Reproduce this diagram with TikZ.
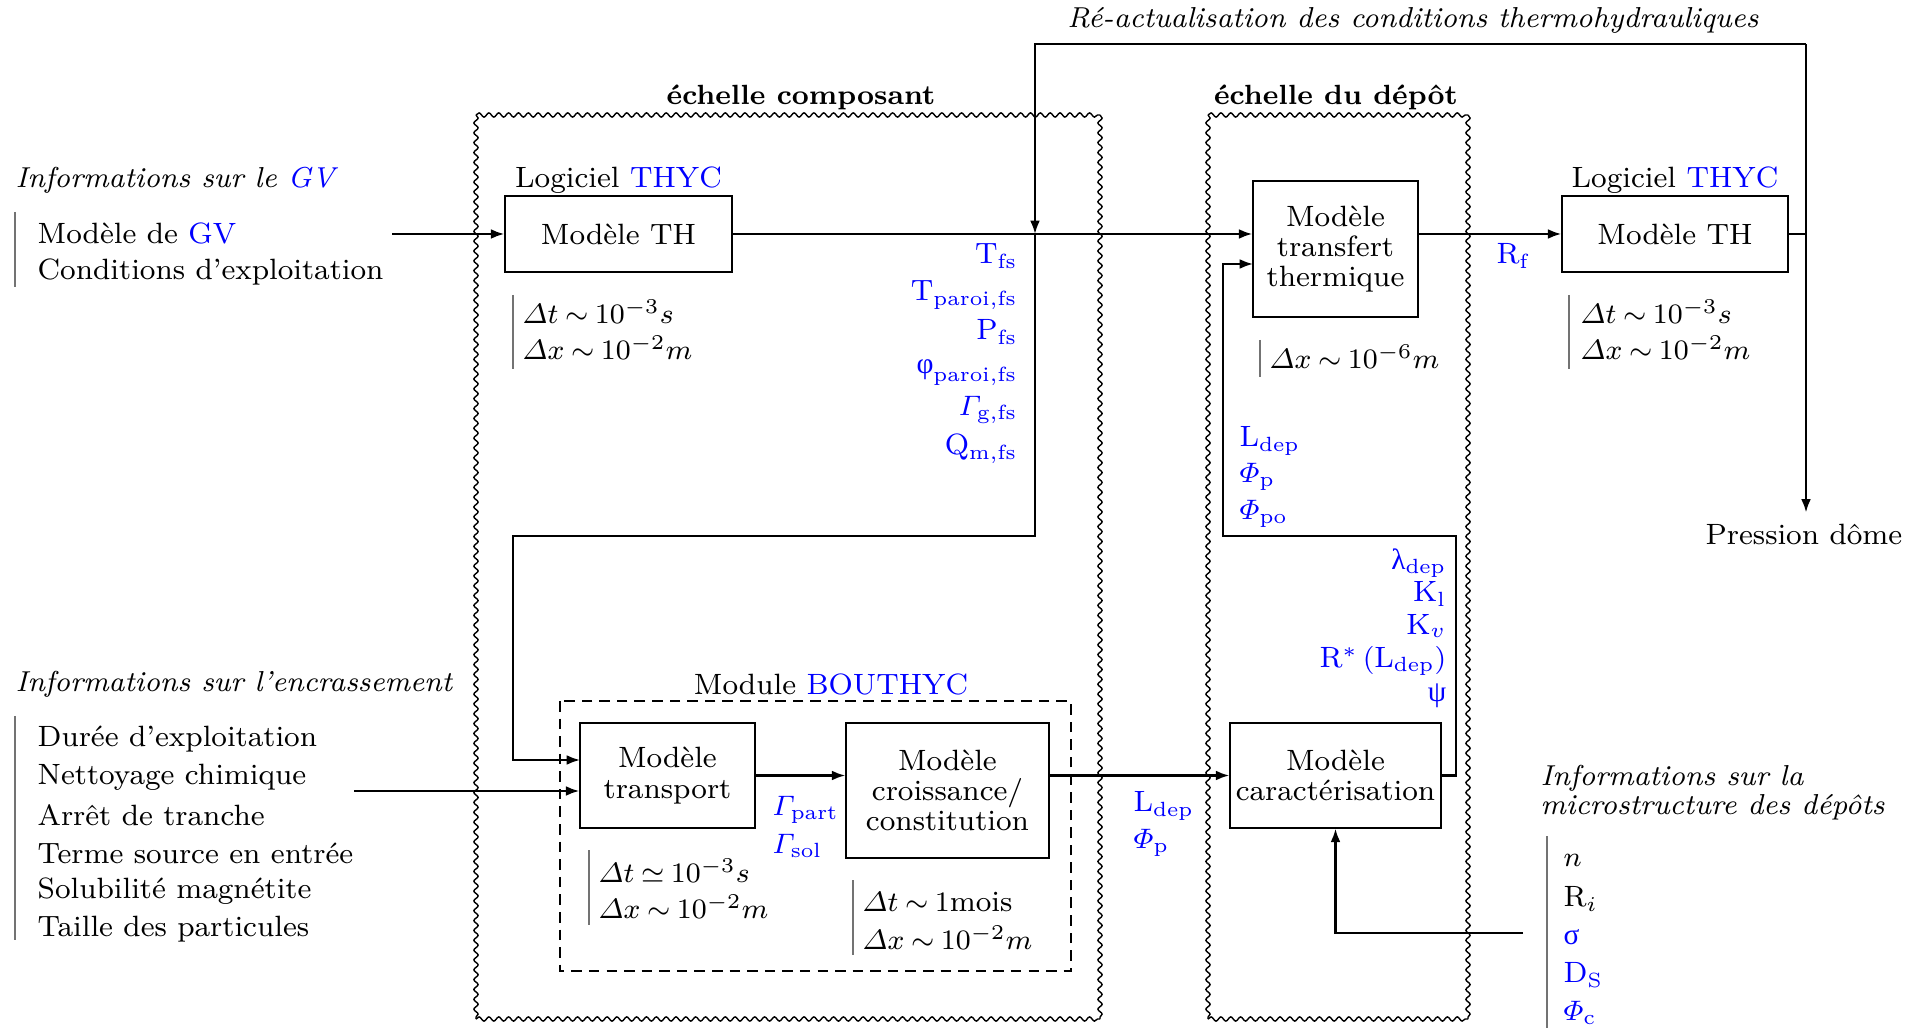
\documentclass[tikz,border=0pt]{standalone}
\usepackage{fontspec}
\newfontfamily\grk{Liberation Serif}
\usetikzlibrary{arrows.meta,decorations.pathmorphing}
\DeclareMathSymbol{\iDelta}{\mathord}{letters}{"01}
\DeclareMathSymbol{\iGamma}{\mathord}{letters}{"00}
\DeclareMathSymbol{\iPhi}{\mathord}{letters}{"08}
\thickmuskip=4mu plus 2mu
\newcommand\upg[1]{\mbox{\grk #1}}
\newcommand\fz{\fontsize{8.35}{8.6}\selectfont}
\newcommand\fzi{\fontsize{8.2}{8.6}\selectfont\itshape}
\newcommand\fzb{\fontsize{7.9}{8.6}\selectfont\bfseries}
\newcommand\bl[1]{\textcolor{blue}{#1}}
\begin{document}
\begin{tikzpicture}[x=0.01cm,y=-0.01cm,
  every node/.style={font=\fz, inner sep=0pt},
  box/.style={draw, line width=0.4pt, align=center},
  arr/.style={line width=0.6pt, -{Latex[length=3.8pt,width=2.8pt]}},
  ln/.style={line width=0.6pt},
  wavy/.style={decorate, decoration={snake, amplitude=0.6pt, segment length=2.8pt}, line width=0.4pt},
  bar/.style={line width=0.4pt, black!55},
  blab/.style={text=blue},
  ital/.style={font=\fzi},
  dashbox/.style={dash pattern=on 3pt off 2pt, line width=0.5pt}]
\useasboundingbox (0,0) rectangle (1924,1028);

% frames
\coordinate (A1) at (476,115); \coordinate (A2) at (1100,115);
\coordinate (A3) at (1100,1019); \coordinate (A4) at (476,1019);
\draw[wavy] (A1) -- (A2); \draw[wavy] (A2) -- (A3);
\draw[wavy] (A4) -- (A3); \draw[wavy] (A1) -- (A4);
\coordinate (B1) at (1208,115); \coordinate (B2) at (1468,115);
\coordinate (B3) at (1468,1019); \coordinate (B4) at (1208,1019);
\draw[wavy] (B1) -- (B2); \draw[wavy] (B2) -- (B3);
\draw[wavy] (B4) -- (B3); \draw[wavy] (B1) -- (B4);
\node[font=\fzb] (hcomp) at (801,97) {échelle composant};
\node[font=\fzb] (hdep) at (1336,97) {échelle du dépôt};
\draw[dashbox] (560,701) rectangle (1071,971);
\node (hbou) at (831,684) {Module \bl{BOUTHYC}};
\node[ital] (title) at (1413,20) {Ré-actualisation des conditions thermohydrauliques};

% boxes
\node[box, minimum width=2.27cm, minimum height=0.76cm] (TH1) at (618.5,234) {Modèle TH};
\node (thyc1) at (618.5,180) {Logiciel \bl{THYC}};
\node[box, minimum width=1.65cm, minimum height=1.36cm] (TT) at (1335.5,249) {Modèle\\transfert\\thermique};
\node[box, minimum width=2.26cm, minimum height=0.76cm] (TH2) at (1675,234) {Modèle TH};
\node (thyc2) at (1675,180) {Logiciel \bl{THYC}};
\node[box, minimum width=1.75cm, minimum height=1.05cm] (TR) at (667.5,775.5) {Modèle\\transport};
\node[box, minimum width=2.03cm, minimum height=1.35cm] (CR) at (947.5,790.5) {Modèle\\croissance/\\constitution};
\node[box, minimum width=2.11cm, minimum height=1.05cm] (CA) at (1335.5,775.5) {Modèle\\caractérisation};

% GV info
\node[anchor=west, ital] (iGV) at (15,180) {Informations sur le \bl{GV}};
\draw[bar] (15,212) -- (15,287);
\node[anchor=west] (gv1) at (37,233) {Modèle de \bl{GV}};
\node[anchor=west] (gv2) at (37,272) {Conditions d’exploitation};
\coordinate (gvin) at (392,234);
\draw[arr] (gvin) -- (TH1.west);

% scales
\draw[bar] (513,295) -- (513,369);
\node[anchor=west] (dt1a) at (522,312) {$\iDelta t\sim 10^{-3}s$};
\node[anchor=west] (dt1b) at (522,348) {$\iDelta x\sim 10^{-2}m$};
\draw[bar] (1569,295) -- (1569,369);
\node[anchor=west] (dt3a) at (1580,312) {$\iDelta t\sim 10^{-3}s$};
\node[anchor=west] (dt3b) at (1580,348) {$\iDelta x\sim 10^{-2}m$};
\draw[bar] (1260,340) -- (1260,377);
\node[anchor=west] (dx2) at (1269,357) {$\iDelta x\sim 10^{-6}m$};
\draw[bar] (589,850) -- (589,925);
\node[anchor=west] (dt2a) at (598,871) {$\iDelta t\simeq 10^{-3}s$};
\node[anchor=west] (dt2b) at (598,907) {$\iDelta x\sim 10^{-2}m$};
\draw[bar] (853,880) -- (853,955);
\node[anchor=west] (dt4a) at (862,902) {$\iDelta t\sim 1$mois};
\node[anchor=west] (dt4b) at (862,938) {$\iDelta x\sim 10^{-2}m$};

% main flow
\draw[arr] (TH1.east) -- (TH1.east -| TT.west);
\draw[arr] (TT.east |- TH2.west) -- (TH2.west);
\coordinate (fbR) at (1806,234);
\coordinate (fbT) at (1806,44);
\coordinate (fbL) at (1035,44);
\coordinate (fbE) at (1035,234);
\draw[ln] (TH2.east) -- (fbR);
\node[anchor=north] (pd) at (1804,523) {Pression dôme};
\draw[arr, shorten >=3pt] (fbT) -- (fbT |- pd.north);
\draw[arr] (fbT) -- (fbL) -- (fbE);
\node[anchor=west, blab] (rf) at (1496,256) {$\mathrm{R_f}$};

% TH outputs
\node[anchor=east, blab] (l1) at (1018,256) {$\mathrm{T}_{\mathrm{fs}}$};
\node[anchor=east, blab] (l2) at (1018,295) {$\mathrm{T}_{\mathrm{paroi{,}fs}}$};
\node[anchor=east, blab] (l3) at (1018,332) {$\mathrm{P}_{\mathrm{fs}}$};
\node[anchor=east, blab] (l4) at (1018,373) {$\upg{φ}_{\mathrm{paroi{,}fs}}$};
\node[anchor=east, blab] (l5) at (1018,410) {$\iGamma_{\mathrm{g{,}fs}}$};
\node[anchor=east, blab] (l6) at (1018,449) {$\mathrm{Q}_{\mathrm{m{,}fs}}$};
\coordinate (d1) at (1035,536);
\coordinate (d2) at (513,536);
\coordinate (tin1) at (580,760);
\draw[arr] (fbE) -- (d1) -- (d2) |- (tin1);

% fouling info
\node[anchor=west, ital] (iE) at (15,684) {Informations sur l’encrassement};
\draw[bar] (15,716) -- (15,940);
\node[anchor=west] (e1) at (37,739) {Durée d’exploitation};
\node[anchor=west] (e2) at (37,777) {Nettoyage chimique};
\node[anchor=west] (e3) at (37,815) {Arrêt de tranche};
\node[anchor=west] (e4) at (37,853) {Terme source en entrée};
\node[anchor=west] (e5) at (37,891) {Solubilité magnétite};
\node[anchor=west] (e6) at (37,929) {Taille des particules};
\coordinate (ein) at (354,791);
\draw[arr] (ein) -- (ein -| TR.west);

% BOUTHYC flow
\draw[arr] (TR.east) -- (TR.east -| CR.west);
\node[anchor=west, blab] (gp) at (772,810) {$\iGamma_{\mathrm{part}}$};
\node[anchor=west, blab] (gs) at (772,846) {$\iGamma_{\mathrm{sol}}$};
\draw[arr] (CR.east |- CA.west) -- (CA.west);
\node[anchor=west, blab] (ld1) at (1133,806) {$\mathrm{L}_{\mathrm{dep}}$};
\node[anchor=west, blab] (pp1) at (1133,843) {$\iPhi_{\mathrm{p}}$};

% characterisation -> thermal transfer
\coordinate (c1) at (1456,536);
\coordinate (c2) at (1223,536);
\coordinate (ttin) at (1253,264);
\draw[arr] (CA.east) -| (c1) -- (c2) |- (ttin);
\node[anchor=east, blab] (k1) at (1447,563) {$\upg{λ}_{\mathrm{dep}}$};
\node[anchor=east, blab] (k2) at (1447,594) {$\mathrm{K}_{\mathrm{l}}$};
\node[anchor=east, blab] (k3) at (1447,626) {$\mathrm{K}_{v}$};
\node[anchor=east, blab] (k4) at (1447,661) {$\mathrm{R}^*\,(\mathrm{L}_{\mathrm{dep}})$};
\node[anchor=east, blab] (k5) at (1447,696) {$\upg{ψ}$};
\node[anchor=west, blab] (t1) at (1239,441) {$\mathrm{L}_{\mathrm{dep}}$};
\node[anchor=west, blab] (t2) at (1239,477) {$\iPhi_{\mathrm{p}}$};
\node[anchor=west, blab] (t3) at (1239,514) {$\iPhi_{\mathrm{po}}$};

% microstructure
\node[anchor=west, ital] (iM1) at (1540,778) {Informations sur la};
\node[anchor=west, ital] (iM2) at (1540,807) {microstructure des dépôts};
\draw[bar] (1547,836) -- (1547,1028);
\node[anchor=west] (m1t) at (1563,860) {$n$};
\node[anchor=west] (m2t) at (1563,899) {$\mathrm{R}_i$};
\node[anchor=west, blab] (m3t) at (1563,937) {$\upg{σ}$};
\node[anchor=west, blab] (m4t) at (1563,975) {$\mathrm{D_S}$};
\node[anchor=west, blab] (m5t) at (1563,1013) {$\iPhi_{\mathrm{c}}$};
\coordinate (m1) at (1523,933);
\draw[arr] (m1) -| (CA.south);
\end{tikzpicture}
\end{document}
